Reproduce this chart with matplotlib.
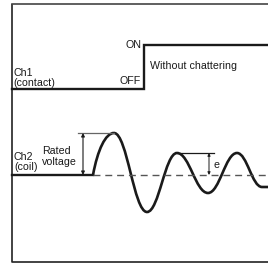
import matplotlib
matplotlib.use("Agg")
import matplotlib.pyplot as plt
from matplotlib.path import Path
from matplotlib.patches import PathPatch

plt.rcParams['font.family'] = ['Liberation Sans', 'DejaVu Sans']

# ---- data (pixel-like schematic coordinates, y grows downward) ----
frame_x = [12, 12, 268]
frame_y = [4, 262, 262]
frame_top_x = [12, 268]
frame_top_y = [4, 4]

ch1_x = [12, 144, 144, 268]
ch1_y = [88.5, 88.5, 45, 45]

ch2_flat_x = [12, 93]
ch2_level = 175

wave_x = [93, 114, 147, 177, 208, 237, 262, 268]
wave_y = [175, 133, 212, 153, 193, 153, 187, 187]

rated_arrow_x = 83
rated_top_line_x = [78, 114]
e_arrow_x = 209
e_top_line_x = [177, 214]

BLACK = '#1a1a1a'
GRAY = '#555555'

fig = plt.figure(figsize=(2.68, 2.66), dpi=100)
ax = fig.add_axes([0, 0, 1, 1])
ax.set_xlim(0, 268)
ax.set_ylim(266, 0)
ax.axis('off')

# frame
ax.plot(frame_x, frame_y, color='#222222', lw=1.2, solid_capstyle='butt')
ax.plot(frame_top_x, frame_top_y, color='#444444', lw=1.2)

# Ch1
ax.plot(ch1_x, ch1_y, color=BLACK, lw=1.7, solid_joinstyle='miter')

# Ch2 flat and dashed reference
ax.plot(ch2_flat_x, [ch2_level, ch2_level], color=BLACK, lw=1.7)
ax.plot([ch2_flat_x[1], 268], [ch2_level, ch2_level], color=GRAY, lw=1.0,
        dashes=(5, 3.5))

# wave as bezier segments between extrema
verts = [(wave_x[0], wave_y[0])]
codes = [Path.MOVETO]
n = len(wave_x)
for i in range(n - 2):
    x0, y0 = wave_x[i], wave_y[i]
    x1, y1 = wave_x[i + 1], wave_y[i + 1]
    dx = x1 - x0
    if i == 0:
        c1 = (x0 + 0.22 * dx, y0 - 0.6 * (y0 - y1))
    else:
        c1 = (x0 + 0.40 * dx, y0)
    c2 = (x1 - 0.40 * dx, y1)
    verts += [c1, c2, (x1, y1)]
    codes += [Path.CURVE4] * 3
verts.append((wave_x[-1], wave_y[-1]))
codes.append(Path.LINETO)
ax.add_patch(PathPatch(Path(verts, codes), fill=False, edgecolor=BLACK, lw=1.9))

# rated voltage marker
ax.plot(rated_top_line_x, [wave_y[1], wave_y[1]], color='#666666', lw=0.9)
ax.annotate('', xy=(rated_arrow_x, wave_y[1]), xytext=(rated_arrow_x, ch2_level),
            arrowprops=dict(arrowstyle='<|-|>', color=BLACK, lw=0.8,
                            mutation_scale=5, shrinkA=0, shrinkB=0))

# e marker
ax.plot(e_top_line_x, [wave_y[3], wave_y[3]], color=BLACK, lw=0.9)
ax.annotate('', xy=(e_arrow_x, wave_y[3]), xytext=(e_arrow_x, ch2_level),
            arrowprops=dict(arrowstyle='<|-|>', color=BLACK, lw=0.7,
                            mutation_scale=4, shrinkA=0, shrinkB=0))

fs = 7.7
ax.text(13, 86, 'Ch1\n(contact)', fontsize=fs, ha='left', va='baseline',
        linespacing=1.0, color=BLACK)
ax.text(141, 48.5, 'ON', fontsize=fs, ha='right', va='baseline', color=BLACK)
ax.text(141, 84.5, 'OFF', fontsize=fs, ha='right', va='baseline', color=BLACK)
ax.text(150, 69, 'Without chattering', fontsize=fs, ha='left', va='baseline',
        color=BLACK)
ax.text(14, 170, 'Ch2\n(coil)', fontsize=fs, ha='left', va='baseline',
        linespacing=1.0, color=BLACK)
ax.text(42, 165, 'Rated\nvoltage', fontsize=fs, ha='left', va='baseline',
        linespacing=1.15, color=BLACK)
ax.text(213, 168.5, 'e', fontsize=fs, ha='left', va='baseline', color=BLACK)

fig.savefig('out.png', dpi=100)
